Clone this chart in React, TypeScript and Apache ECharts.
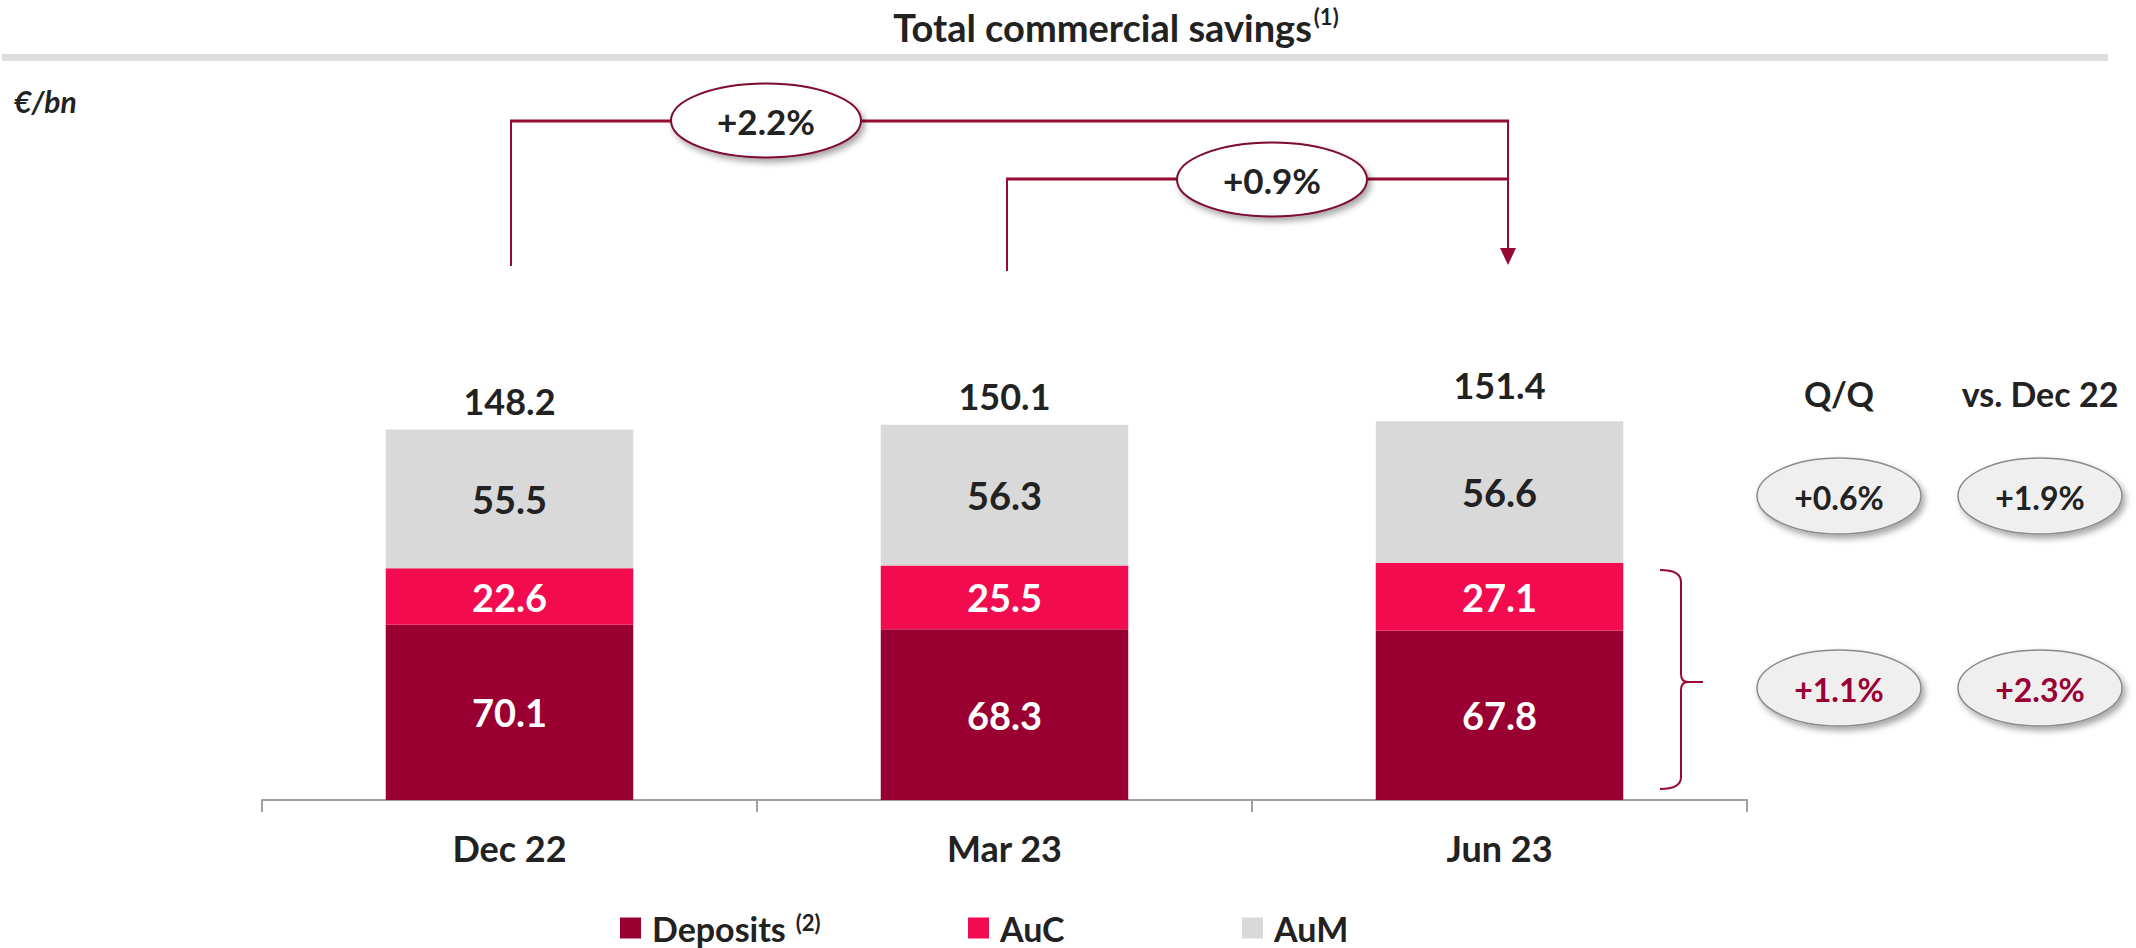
import React, { useEffect, useRef } from "react";
import * as echarts from "echarts";

const categories = ["Dec 22", "Mar 23", "Jun 23"];
const deposits = [70.1, 68.3, 67.8];
const auc = [22.6, 25.5, 27.1];
const aum = [55.5, 56.3, 56.6];
const totals = [148.2, 150.1, 151.4];
const seriesNames = ["Deposits", "AuC", "AuM"];
const topGrowth = ["+2.2%", "+0.9%"];
const sideHeaders = ["Q/Q", "vs. Dec 22"];
const sideTopRow = ["+0.6%", "+1.9%"];
const sideBottomRow = ["+1.1%", "+2.3%"];

const FONT = "Lato, 'Noto Sans', sans-serif";
const DARK_RED = "#990031";
const PINK = "#f20c4f";
const GREY = "#d9d9d9";
const LINE_RED = "#960a33";
const TEXT = "#222222";

let braceRegistered = false;
function registerBrace() {
  if (braceRegistered) return;
  const d =
    "M1660,570 Q1681,570 1681,582 L1681,674 Q1681,682 1688,682 L1703,682 L1688,682 Q1681,682 1681,690 L1681,777 Q1681,789 1660,789";
  echarts.graphic.registerShape("brace", echarts.graphic.extendPath(d, {}) as any);
  braceRegistered = true;
}

export default function App() {
  const ref = useRef<HTMLDivElement>(null);
  useEffect(() => {
    if (!ref.current) return;
    registerBrace();
    const chart = echarts.init(ref.current, undefined, { renderer: "svg" });

    const ellipseShadow = {
      shadowBlur: 6,
      shadowColor: "rgba(0,0,0,0.35)",
      shadowOffsetX: 3,
      shadowOffsetY: 4,
    };

    const graphic: any[] = [
      // title with superscript
      {
        type: "text",
        x: 1116,
        y: 27,
        z: 50,
        style: {
          text: "{t|Total commercial savings}{s|(1)}",
          align: "center",
          verticalAlign: "middle",
          rich: {
            t: { fontFamily: FONT, fontWeight: "bold", fontSize: 38, fill: TEXT, lineHeight: 44 },
            s: { fontFamily: FONT, fontWeight: "bold", fontSize: 22, fill: TEXT, lineHeight: 24, verticalAlign: "top", padding: [0, 0, 0, 2] },
          },
        },
      },
      {
        type: "rect",
        shape: { x: 2, y: 54, width: 2106, height: 7 },
        style: { fill: "#dedede" },
        z: 5,
      },
      {
        type: "text",
        x: 14,
        y: 101,
        z: 50,
        style: { text: "€/bn", font: `italic bold 30px ${FONT}`, fill: TEXT, align: "left", verticalAlign: "middle" },
      },
      // top brackets
      { type: "line", z: 10, shape: { x1: 511, y1: 266, x2: 511, y2: 120 }, style: { stroke: LINE_RED, lineWidth: 2 } },
      { type: "line", z: 10, shape: { x1: 510, y1: 121, x2: 1509, y2: 121 }, style: { stroke: LINE_RED, lineWidth: 3 } },
      { type: "line", z: 10, shape: { x1: 1508, y1: 120, x2: 1508, y2: 252 }, style: { stroke: LINE_RED, lineWidth: 2 } },
      { type: "polygon", z: 10, shape: { points: [[1500, 248], [1516, 248], [1508, 265]] }, style: { fill: LINE_RED } },
      { type: "line", z: 10, shape: { x1: 1007, y1: 271, x2: 1007, y2: 178 }, style: { stroke: LINE_RED, lineWidth: 2 } },
      { type: "line", z: 10, shape: { x1: 1006, y1: 179, x2: 1508, y2: 179 }, style: { stroke: LINE_RED, lineWidth: 3 } },
      {
        type: "ellipse",
        z: 20,
        shape: { cx: 766, cy: 120.5, rx: 95, ry: 37 },
        style: { fill: "#ffffff", stroke: "#7d0a2c", lineWidth: 2, ...ellipseShadow },
      },
      {
        type: "ellipse",
        z: 20,
        shape: { cx: 1272, cy: 179.5, rx: 95, ry: 37 },
        style: { fill: "#ffffff", stroke: "#7d0a2c", lineWidth: 2, ...ellipseShadow },
      },
      {
        type: "text",
        z: 30,
        x: 766,
        y: 121,
        style: { text: topGrowth[0], font: `bold 35px ${FONT}`, fill: TEXT, align: "center", verticalAlign: "middle" },
      },
      {
        type: "text",
        z: 30,
        x: 1272,
        y: 180,
        style: { text: topGrowth[1], font: `bold 35px ${FONT}`, fill: TEXT, align: "center", verticalAlign: "middle" },
      },
      // brace
      { type: "brace", z: 10, x: 0, y: 0, style: { stroke: LINE_RED, fill: "none", lineWidth: 2 } },
    ];

    const colX = [1839, 2040];
    sideHeaders.forEach((h, i) => {
      graphic.push({
        type: "text",
        z: 30,
        x: colX[i],
        y: 393,
        style: { text: h, font: `bold 34px ${FONT}`, fill: TEXT, align: "center", verticalAlign: "middle" },
      });
    });
    const rows = [
      { y: 496, labels: sideTopRow, color: TEXT },
      { y: 688, labels: sideBottomRow, color: "#990033" },
    ];
    rows.forEach((r) => {
      r.labels.forEach((lab, i) => {
        graphic.push({
          type: "ellipse",
          z: 20,
          shape: { cx: colX[i], cy: r.y, rx: 82, ry: 38 },
          style: { fill: "#efefef", stroke: "#8a8a8a", lineWidth: 1.5, ...ellipseShadow },
        });
        graphic.push({
          type: "text",
          z: 30,
          x: colX[i],
          y: r.y + 1,
          style: { text: lab, font: `bold 32px ${FONT}`, fill: r.color, align: "center", verticalAlign: "middle" },
        });
      });
    });

    const legendLefts = [620, 968, 1242];
    const legendColors = [DARK_RED, PINK, GREY];

    const barLabel = (color: string) => ({
      show: true,
      position: "inside",
      color,
      fontFamily: FONT,
      fontWeight: "bold",
      fontSize: 38,
      formatter: (p: any) => Number(p.value).toFixed(1),
    });

    const totalLift = [0, 0, 8];

    const option: any = {
      animation: false,
      backgroundColor: "#ffffff",
      grid: { left: 262, right: 389, top: 300, bottom: 148 },
      xAxis: {
        type: "category",
        data: categories,
        boundaryGap: true,
        axisLine: { show: true, lineStyle: { color: "#a0a0a0", width: 2 } },
        axisTick: { show: true, length: 12, lineStyle: { color: "#a0a0a0", width: 2 } },
        axisLabel: {
          margin: 30,
          color: TEXT,
          fontFamily: FONT,
          fontWeight: "bold",
          fontSize: 36,
        },
      },
      yAxis: {
        type: "value",
        min: 0,
        max: 200,
        show: false,
        splitLine: { show: false },
      },
      legend: seriesNames.map((name, i) => ({
        data: [name],
        left: legendLefts[i],
        top: 911,
        padding: 0,
        itemWidth: 21,
        itemHeight: 21,
        icon: "rect",
        selectedMode: false,
        formatter: (n: string) => (n === "Deposits" ? `{a|${n}}{s|(2)}` : `{a|${n}}`),
        textStyle: {
          rich: {
            a: {
              fontFamily: FONT,
              fontWeight: "bold",
              fontSize: 34,
              color: TEXT,
              lineHeight: 34,
              padding: [0, 0, 0, 6],
            },
            s: {
              fontFamily: FONT,
              fontWeight: "bold",
              fontSize: 22,
              color: TEXT,
              verticalAlign: "top",
              lineHeight: 22,
              padding: [0, 0, 0, 10],
            },
          },
        },
      })),
      series: [
        {
          name: "Deposits",
          type: "bar",
          stack: "total",
          barWidth: "50%",
          data: deposits,
          itemStyle: { color: legendColors[0] },
          label: barLabel("#ffffff"),
        },
        {
          name: "AuC",
          type: "bar",
          stack: "total",
          barWidth: "50%",
          data: auc,
          itemStyle: { color: legendColors[1] },
          label: barLabel("#ffffff"),
        },
        {
          name: "AuM",
          type: "bar",
          stack: "total",
          barWidth: "50%",
          data: aum,
          itemStyle: { color: legendColors[2] },
          label: barLabel(TEXT),
        },
        {
          name: "Total",
          type: "bar",
          barWidth: "50%",
          barGap: "-100%",
          z: 1,
          silent: true,
          data: totals.map((v, i) => ({ value: v, label: { distance: 11 + totalLift[i] } })),
          itemStyle: { color: "rgba(0,0,0,0)" },
          label: {
            show: true,
            position: "top",
            distance: 11,
            color: TEXT,
            fontFamily: FONT,
            fontWeight: "bold",
            fontSize: 36,
            formatter: (p: any) => Number(p.value).toFixed(1),
          },
        },
      ],
      graphic,
    };

    chart.setOption(option);
    return () => chart.dispose();
  }, []);

  return (
    <div
      ref={ref}
      style={{ position: "fixed", left: 0, top: 0, width: 2136, height: 948, background: "#ffffff" }}
    />
  );
}
